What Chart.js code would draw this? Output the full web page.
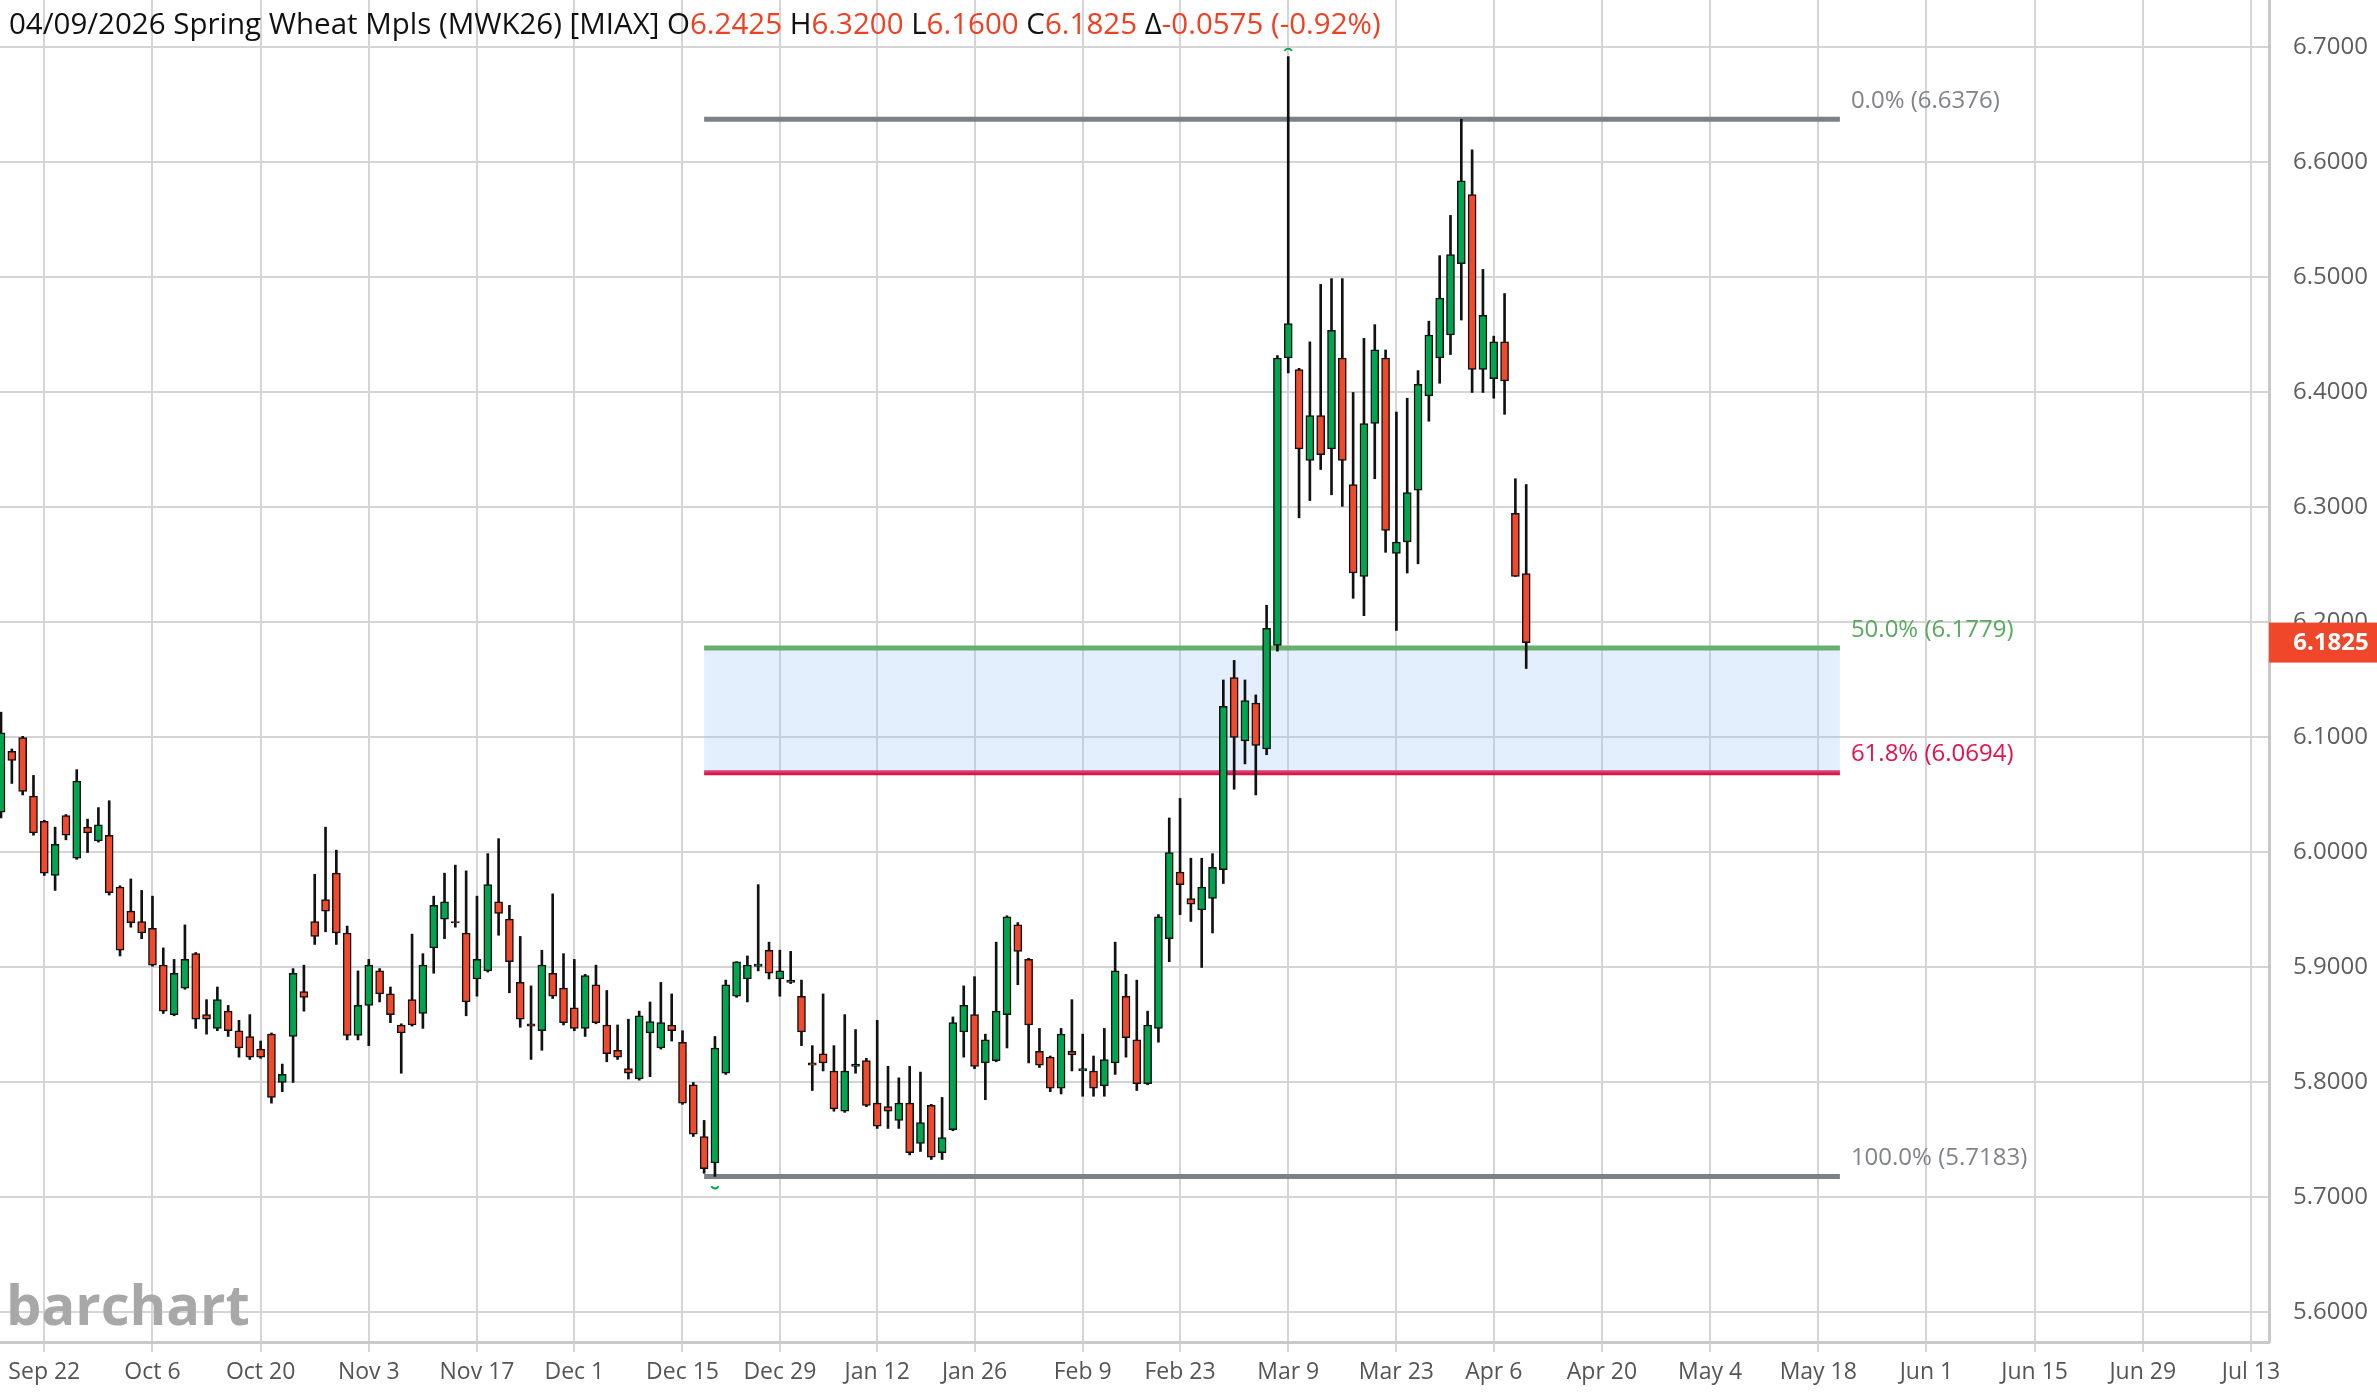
<!DOCTYPE html>
<html>
<head>
<meta charset="utf-8">
<style>
  html, body { margin: 0; padding: 0; background: #fff; }
  canvas { display: block; }
</style>
<script src="https://cdn.jsdelivr.net/npm/chart.js@4.4.1/dist/chart.umd.min.js"></script>
</head>
<body>
<canvas id="chart" width="2377" height="1394"></canvas>
<script>
// trading-day index of the first candle (Sep 22 2025 = 0)
const firstIndex = -4;

const opens = [
  6.035, 6.088, 6.100, 6.049, 6.027, 5.980, 6.032, 5.995, 6.022, 6.010,
  6.015, 5.970, 5.949, 5.940, 5.934, 5.902, 5.859, 5.882, 5.912, 5.859,
  5.847, 5.862, 5.845, 5.840, 5.829, 5.842, 5.800, 5.840, 5.879, 5.940,
  5.959, 5.982, 5.930, 5.841, 5.867, 5.897, 5.877, 5.850, 5.872, 5.860,
  5.917, 5.942, 5.940, 5.930, 5.890, 5.897, 5.957, 5.942, 5.887, 5.851,
  5.845, 5.895, 5.882, 5.865, 5.847, 5.885, 5.850, 5.828, 5.812, 5.803,
  5.843, 5.830, 5.850, 5.835, 5.798, 5.753, 5.730, 5.808, 5.875, 5.890,
  5.901, 5.915, 5.890, 5.887, 5.875, 5.817, 5.825, 5.810, 5.775, 5.814,
  5.819, 5.782, 5.779, 5.767, 5.782, 5.747, 5.780, 5.739, 5.759, 5.844,
  5.859, 5.817, 5.819, 5.859, 5.937, 5.907, 5.827, 5.822, 5.795, 5.827,
  5.810, 5.810, 5.797, 5.817, 5.875, 5.837, 5.799, 5.847, 5.925, 5.983,
  5.960, 5.950, 5.960, 5.985, 6.152, 6.097, 6.130, 6.090, 6.180, 6.430,
  6.420, 6.341, 6.380, 6.351, 6.430, 6.320, 6.240, 6.373, 6.430, 6.260,
  6.270, 6.315, 6.397, 6.430, 6.450, 6.512, 6.572, 6.420, 6.412, 6.444,
  6.295, 6.2425
];
const highs = [
  6.122, 6.090, 6.101, 6.067, 6.028, 6.022, 6.033, 6.072, 6.029, 6.039,
  6.045, 5.971, 5.977, 5.967, 5.962, 5.917, 5.907, 5.937, 5.913, 5.872,
  5.883, 5.867, 5.854, 5.859, 5.836, 5.843, 5.816, 5.899, 5.902, 5.981,
  6.022, 6.002, 5.936, 5.897, 5.907, 5.899, 5.883, 5.851, 5.929, 5.912,
  5.962, 5.982, 5.989, 5.984, 5.962, 5.999, 6.012, 5.954, 5.927, 5.884,
  5.915, 5.964, 5.912, 5.907, 5.894, 5.902, 5.880, 5.850, 5.855, 5.862,
  5.870, 5.887, 5.877, 5.845, 5.800, 5.767, 5.840, 5.889, 5.905, 5.910,
  5.972, 5.922, 5.915, 5.914, 5.889, 5.832, 5.877, 5.832, 5.859, 5.846,
  5.821, 5.854, 5.814, 5.804, 5.814, 5.809, 5.781, 5.787, 5.857, 5.884,
  5.892, 5.842, 5.922, 5.945, 5.939, 5.908, 5.847, 5.823, 5.847, 5.872,
  5.842, 5.823, 5.847, 5.922, 5.894, 5.889, 5.862, 5.946, 6.030, 6.047,
  5.995, 5.995, 5.999, 6.150, 6.167, 6.150, 6.137, 6.215, 6.432, 6.692,
  6.421, 6.444, 6.494, 6.499, 6.499, 6.400, 6.447, 6.459, 6.437, 6.383,
  6.395, 6.419, 6.462, 6.519, 6.554, 6.6376, 6.611, 6.507, 6.449, 6.486,
  6.325, 6.3200
];
const lows = [
  6.030, 6.060, 6.050, 6.015, 5.980, 5.967, 6.011, 5.994, 6.000, 6.009,
  5.963, 5.910, 5.935, 5.925, 5.901, 5.860, 5.858, 5.881, 5.847, 5.842,
  5.845, 5.840, 5.822, 5.820, 5.821, 5.782, 5.792, 5.800, 5.862, 5.920,
  5.931, 5.920, 5.837, 5.837, 5.832, 5.870, 5.852, 5.808, 5.849, 5.847,
  5.895, 5.925, 5.935, 5.858, 5.875, 5.896, 5.928, 5.878, 5.848, 5.820,
  5.828, 5.873, 5.850, 5.845, 5.840, 5.851, 5.818, 5.820, 5.803, 5.802,
  5.805, 5.829, 5.836, 5.781, 5.753, 5.721, 5.7183, 5.807, 5.874, 5.870,
  5.897, 5.890, 5.875, 5.886, 5.832, 5.793, 5.810, 5.775, 5.774, 5.808,
  5.779, 5.760, 5.760, 5.760, 5.737, 5.740, 5.733, 5.733, 5.758, 5.822,
  5.812, 5.785, 5.818, 5.830, 5.885, 5.817, 5.813, 5.792, 5.790, 5.810,
  5.788, 5.788, 5.788, 5.807, 5.822, 5.793, 5.798, 5.835, 5.905, 5.946,
  5.940, 5.900, 5.930, 5.973, 6.055, 6.077, 6.050, 6.085, 6.175, 6.417,
  6.291, 6.306, 6.333, 6.311, 6.301, 6.221, 6.206, 6.325, 6.261, 6.193,
  6.243, 6.251, 6.375, 6.408, 6.433, 6.463, 6.400, 6.400, 6.395, 6.381,
  6.240, 6.1600
];
const closes = [
  6.104, 6.080, 6.053, 6.017, 5.982, 6.007, 6.015, 6.062, 6.017, 6.024,
  5.965, 5.915, 5.939, 5.930, 5.902, 5.862, 5.895, 5.907, 5.855, 5.855,
  5.872, 5.845, 5.830, 5.822, 5.822, 5.787, 5.807, 5.895, 5.874, 5.927,
  5.949, 5.930, 5.841, 5.867, 5.902, 5.877, 5.859, 5.843, 5.850, 5.902,
  5.954, 5.957, 5.939, 5.870, 5.907, 5.972, 5.947, 5.905, 5.855, 5.849,
  5.902, 5.875, 5.852, 5.847, 5.893, 5.852, 5.825, 5.822, 5.808, 5.858,
  5.853, 5.852, 5.845, 5.782, 5.755, 5.725, 5.830, 5.885, 5.905, 5.902,
  5.903, 5.895, 5.897, 5.889, 5.844, 5.815, 5.817, 5.777, 5.810, 5.816,
  5.780, 5.762, 5.775, 5.782, 5.739, 5.765, 5.735, 5.752, 5.852, 5.867,
  5.814, 5.837, 5.862, 5.944, 5.914, 5.850, 5.815, 5.795, 5.842, 5.824,
  5.812, 5.795, 5.820, 5.897, 5.839, 5.799, 5.850, 5.944, 6.000, 5.972,
  5.955, 5.970, 5.987, 6.127, 6.100, 6.132, 6.093, 6.195, 6.430, 6.460,
  6.351, 6.380, 6.346, 6.454, 6.341, 6.243, 6.373, 6.437, 6.280, 6.270,
  6.313, 6.407, 6.450, 6.482, 6.520, 6.584, 6.420, 6.467, 6.444, 6.410,
  6.240, 6.1825
];

// x-axis: trading-day index of each labelled date
const tickIndex = [0, 10, 20, 30, 40, 49, 59, 68, 77, 86, 96, 105, 115, 125, 134, 144, 154, 164, 174, 184, 194, 204];
const tickLabels = ['Sep 22', 'Oct 6', 'Oct 20', 'Nov 3', 'Nov 17', 'Dec 1', 'Dec 15', 'Dec 29', 'Jan 12', 'Jan 26',
  'Feb 9', 'Feb 23', 'Mar 9', 'Mar 23', 'Apr 6', 'Apr 20', 'May 4', 'May 18', 'Jun 1', 'Jun 15', 'Jun 29', 'Jul 13'];
const priceTicks = [5.6, 5.7, 5.8, 5.9, 6.0, 6.1, 6.2, 6.3, 6.4, 6.5, 6.6, 6.7];

// fibonacci retracement
const fibLabels = ['0.0%', '50.0%', '61.8%', '100.0%'];
const fibValues = [6.6376, 6.1779, 6.0694, 5.7183];
const fibRange = [61, 166];

const UP = '#00a64f', DOWN = '#f0492b', RED_TXT = '#ee4124';
const fibColors = ['#7d8089', '#68ae6c', '#e3134a', '#7d8089'];
const fibTextColors = ['#80838a', '#5aa95e', '#e3134a', '#80838a'];

const xs = opens.map((_, k) => firstIndex + k);
const bodyColors = opens.map((o, k) => closes[k] >= o ? UP : DOWN);

const fibSets = fibValues.map((v, k) => ({
  type: 'line',
  data: [{ x: fibRange[0], y: v }, { x: fibRange[1], y: v }],
  borderColor: fibColors[k],
  borderWidth: 5,
  pointRadius: 0,
  fill: k === 1 ? '+1' : false,
  backgroundColor: 'rgba(150, 195, 245, 0.27)',
  order: 3
}));

const overlay = {
  id: 'overlay',
  afterDraw(chart) {
    const { ctx, scales: { x, y }, chartArea } = chart;
    ctx.save();

    // fib labels
    ctx.font = '24px "Open Sans"';
    ctx.textBaseline = 'middle';
    ctx.textAlign = 'left';
    fibValues.forEach((v, k) => {
      ctx.fillStyle = fibTextColors[k];
      ctx.fillText(fibLabels[k] + ' (' + v.toFixed(4) + ')', x.getPixelForValue(fibRange[1]) + 11, y.getPixelForValue(v) - 18);
    });

    // high / low markers
    const hi = highs.indexOf(Math.max(...highs));
    const lo = lows.indexOf(Math.min(...lows));
    ctx.strokeStyle = UP;
    ctx.lineWidth = 2;
    ctx.beginPath();
    ctx.arc(x.getPixelForValue(xs[hi]), y.getPixelForValue(highs[hi]) - 4, 4, Math.PI * 1.15, Math.PI * 1.85);
    ctx.stroke();
    ctx.beginPath();
    ctx.arc(x.getPixelForValue(xs[lo]), y.getPixelForValue(lows[lo]) + 8, 4, Math.PI * 0.15, Math.PI * 0.85);
    ctx.stroke();

    // title
    const n = closes.length - 1;
    const chg = closes[n] - closes[n - 1];
    const parts = [
      ['04/09/2026 Spring Wheat Mpls (MWK26) [MIAX] O', '#111'], [opens[n].toFixed(4), RED_TXT],
      [' H', '#111'], [highs[n].toFixed(4), RED_TXT],
      [' L', '#111'], [lows[n].toFixed(4), RED_TXT],
      [' C', '#111'], [closes[n].toFixed(4), RED_TXT],
      [' \u0394', '#111'], [chg.toFixed(4) + ' (' + (chg / closes[n - 1] * 100).toFixed(2) + '%)', RED_TXT]
    ];
    ctx.font = '29.5px "Open Sans"';
    ctx.textBaseline = 'alphabetic';
    let tx = 9;
    parts.forEach(([t, c]) => {
      ctx.fillStyle = c;
      ctx.fillText(t, tx, 34);
      tx += ctx.measureText(t).width;
    });

    // last price box
    const py = y.getPixelForValue(closes[n]);
    ctx.fillStyle = '#f0462a';
    ctx.fillRect(chartArea.right, py - 20, chart.width - chartArea.right, 40);
    ctx.fillStyle = '#fff';
    ctx.font = 'bold 24px "Open Sans"';
    ctx.textAlign = 'center';
    ctx.textBaseline = 'middle';
    ctx.fillText(closes[n].toFixed(4), chartArea.right + 62, py + 1);

    // logo
    ctx.font = 'bold 56px "Open Sans"';
    ctx.textAlign = 'left';
    ctx.textBaseline = 'alphabetic';
    ctx.fillStyle = '#a8a8a8';
    ctx.fillText('barchart', 6, 1325);
    ctx.restore();
  }
};

new Chart(document.getElementById('chart'), {
  type: 'bar',
  data: {
    datasets: [
      {
        data: xs.map((v, k) => ({ x: v, y: [opens[k], closes[k]] })),
        backgroundColor: bodyColors,
        borderColor: '#111',
        borderWidth: 1.5,
        borderSkipped: false,
        barThickness: 8,
        grouped: false,
        order: 0
      },
      {
        data: xs.map((v, k) => ({ x: v, y: [lows[k], highs[k]] })),
        backgroundColor: '#111',
        borderWidth: 0,
        barThickness: 2,
        grouped: false,
        order: 1
      },
      ...fibSets
    ]
  },
  options: {
    responsive: false,
    animation: false,
    devicePixelRatio: 1,
    layout: { padding: 0 },
    plugins: { legend: { display: false }, tooltip: { enabled: false } },
    font: { family: '"Open Sans", sans-serif' },
    scales: {
      x: {
        type: 'linear',
        min: -4.095,
        max: 205.67,
        offset: false,
        grid: { offset: false, color: '#d5d5d5', lineWidth: 2, tickLength: 10, tickColor: '#d5d5d5' },
        border: { color: '#c9c9c9', width: 3 },
        ticks: {
          autoSkip: false,
          maxRotation: 0,
          padding: 7,
          color: '#555',
          font: { family: '"Open Sans"', size: 23 },
          callback: v => tickLabels[tickIndex.indexOf(v)] || ''
        },
        afterBuildTicks: s => { s.ticks = tickIndex.map(v => ({ value: v })); },
        afterFit: s => { s.height = 52; s.paddingLeft = 0; s.paddingRight = 0; }
      },
      y: {
        type: 'linear',
        position: 'right',
        min: 5.5743,
        max: 6.7413,
        grid: { color: '#d5d5d5', lineWidth: 2, drawTicks: false },
        border: { color: '#c9c9c9', width: 3 },
        ticks: {
          padding: 24,
          color: '#5e5e5e',
          font: { family: '"Open Sans"', size: 24 },
          callback: v => v.toFixed(4)
        },
        afterBuildTicks: s => { s.ticks = priceTicks.map(v => ({ value: v })); },
        afterFit: s => { s.width = 108; s.paddingTop = 0; s.paddingBottom = 0; }
      }
    }
  },
  plugins: [overlay]
});
</script>
</body>
</html>
